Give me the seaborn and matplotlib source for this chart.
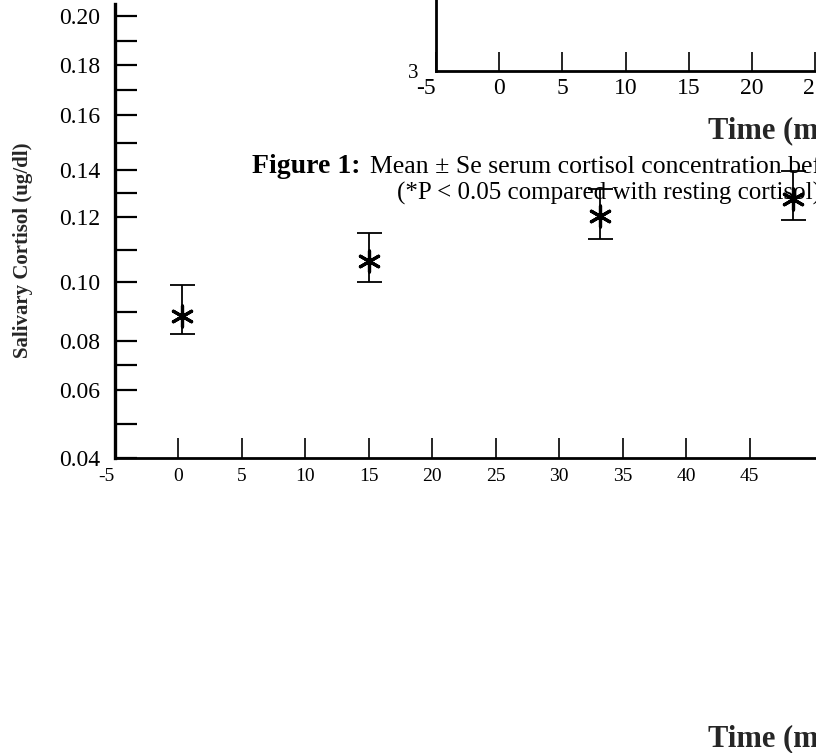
import numpy as np
import pandas as pd
import matplotlib
matplotlib.use("Agg")
import matplotlib.pyplot as plt
from matplotlib.ticker import FixedLocator, FixedFormatter, NullFormatter
import seaborn as sns

# ---------------- data ----------------
time_min = [0.3, 15.0, 33.2, 48.4]
cortisol_mean = [0.0886, 0.1065, 0.1203, 0.1275]
cortisol_low = [0.0822, 0.1002, 0.1131, 0.1190]
cortisol_high = [0.0991, 0.1151, 0.1317, 0.1397]

x_ticks = [-5, 0, 5, 10, 15, 20, 25, 30, 35, 40, 45]
x_labels = ["-5", "0", "5", "10", "15", "20", "25", "30", "35", "40", "45"]
y_major = [0.04, 0.06, 0.08, 0.10, 0.12, 0.14, 0.16, 0.18, 0.20]
y_labels = ["0.04", "0.06", "0.08", "0.10", "0.12", "0.14", "0.16", "0.18", "0.20"]
y_minor = [0.05, 0.07, 0.09, 0.11, 0.13, 0.15, 0.17, 0.19]

inset_x_ticks = [-5, 0, 5, 10, 15, 20, 25, 30, 35, 40, 45, 50, 55]
inset_x_labels = ["-5", "0", "5", "10", "15", "20", "25", "30", "35", "40", "45", "50", "55"]
inset_y_ticks = [3]
inset_y_labels = ["3"]

x_axis_label = "Time (min)"
y_axis_label = "Salivary Cortisol (ug/dl)"
caption_head = "Figure 1:"
caption_line1 = "Mean \u00b1 Se serum cortisol concentration before and after exercise"
caption_line2 = "(*P < 0.05 compared with resting cortisol)"

# printed y axis is hand-spaced: position (px above the x axis) of each major tick
y_major_pos = [0, 68, 117.3, 175.7, 241.3, 288, 343, 392.7, 442]

# ---------------- style ----------------
sns.set_style("ticks")
plt.rcParams["font.family"] = ["Liberation Serif", "DejaVu Serif"]
plt.rcParams["mathtext.default"] = "regular"

W, H, DPI = 816, 753, 100
fig = plt.figure(figsize=(W / DPI, H / DPI), dpi=DPI)
fig.patch.set_facecolor("white")


def fx(px):
    return px / W


def fy(py):
    return (H - py) / H


# ---------------- main axes ----------------
px_per_unit = 12.69
x_min, x_max = -5, 60
left_px, bottom_px, top_px = 115, 458, 4
ax = fig.add_axes([fx(left_px), fy(bottom_px),
                   (x_max - x_min) * px_per_unit / W, (bottom_px - top_px) / H])
ax.set_facecolor("none")

scale_vals = [0.0] + y_major + [0.30]
scale_pos = [-136.0] + y_major_pos + [688.5]


def fwd(v):
    return np.interp(v, scale_vals, scale_pos)


def inv(p):
    return np.interp(p, scale_pos, scale_vals)


ax.set_yscale("function", functions=(fwd, inv))

df = pd.DataFrame({"time": time_min, "mean": cortisol_mean,
                   "low": cortisol_low, "high": cortisol_high})
yerr = np.array([df["mean"] - df["low"], df["high"] - df["mean"]])
ax.errorbar(df["time"], df["mean"], yerr=yerr, fmt="none", ecolor="black",
            elinewidth=1.3, capsize=9, capthick=1.3, zorder=2)
sns.scatterplot(data=df, x="time", y="mean", marker=(6, 2, 0), s=230,
                color="black", linewidth=2.3, ax=ax, zorder=3, legend=False)

ax.set_xlim(x_min, x_max)
ax.set_ylim(0.04, float(inv(bottom_px - top_px)))
ax.xaxis.set_major_locator(FixedLocator(x_ticks))
ax.xaxis.set_major_formatter(FixedFormatter(x_labels))
ax.yaxis.set_major_locator(FixedLocator(y_major))
ax.yaxis.set_major_formatter(FixedFormatter(y_labels))
ax.yaxis.set_minor_locator(FixedLocator(y_minor))
ax.yaxis.set_minor_formatter(NullFormatter())
ax.xaxis.set_minor_locator(FixedLocator([]))

for s in ["top", "right"]:
    ax.spines[s].set_visible(False)
ax.spines["left"].set_linewidth(2.4)
ax.spines["bottom"].set_linewidth(2.0)
ax.spines["left"].set_color("black")
ax.spines["bottom"].set_color("black")

ax.tick_params(axis="y", which="both", direction="in", length=15.8, width=1.6,
               color="black", pad=10.5, labelsize=17, labelcolor="black")
ax.tick_params(axis="x", which="major", direction="in", length=14.4, width=1.2,
               color="black", pad=7, labelsize=14, labelcolor="black")

ax.set_xlabel(x_axis_label, fontsize=22, fontweight="bold")
ax.xaxis.label.set_ha("left")
ax.xaxis.label.set_va("baseline")
ax.xaxis.set_label_coords(fx(708), fy(746), transform=fig.transFigure)

ax.set_ylabel(y_axis_label, fontsize=15, fontweight="bold")
ax.yaxis.set_label_coords(fx(33), fy(250), transform=fig.transFigure)

# ---------------- overlapping upper panel ----------------
in_px_per_unit = 12.64
in_left_px, in_bottom_px = 436, 70.7
ax2 = fig.add_axes([fx(in_left_px), fy(in_bottom_px),
                    (x_max - x_min) * in_px_per_unit / W, 300 / H])
ax2.set_facecolor("none")
ax2.set_xlim(x_min, x_max)
ax2.set_ylim(3, 5)
ax2.xaxis.set_major_locator(FixedLocator(inset_x_ticks))
ax2.xaxis.set_major_formatter(FixedFormatter(inset_x_labels))
ax2.yaxis.set_major_locator(FixedLocator(inset_y_ticks))
ax2.yaxis.set_major_formatter(FixedFormatter(inset_y_labels))
for s in ["top", "right"]:
    ax2.spines[s].set_visible(False)
ax2.spines["left"].set_linewidth(2.0)
ax2.spines["bottom"].set_linewidth(2.0)
ax2.spines["left"].set_color("black")
ax2.spines["bottom"].set_color("black")
ax2.tick_params(axis="x", direction="in", length=13.7, width=1.2, color="black",
                pad=5, labelsize=17, labelcolor="black")
ax2.tick_params(axis="y", direction="in", length=0, pad=13, labelsize=15,
                labelcolor="black")
ax2.set_xlabel(x_axis_label, fontsize=22, fontweight="bold")
ax2.xaxis.label.set_ha("left")
ax2.xaxis.label.set_va("baseline")
ax2.xaxis.set_label_coords(fx(708), fy(138), transform=fig.transFigure)

# the "-5" labels sit left of the axis corner
for a in (ax, ax2):
    a.xaxis.get_major_ticks()[0].label1.set_horizontalalignment("right")

# ---------------- caption ----------------
fig.text(fx(251.7), fy(173), caption_head, fontsize=20, fontweight="bold",
         ha="left", va="baseline", color="black")
fig.text(fx(370), fy(173), caption_line1, fontsize=18.5, ha="left",
         va="baseline", color="black")
fig.text(fx(396.7), fy(200), caption_line2, fontsize=18, ha="left",
         va="baseline", color="black")

fig.savefig("out.png", dpi=DPI, facecolor="white")
